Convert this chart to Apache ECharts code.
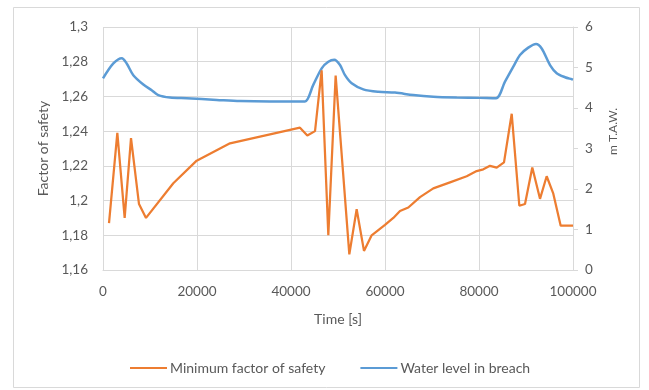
<!DOCTYPE html>
<html>
<head>
<meta charset="utf-8">
<script src="https://cdn.jsdelivr.net/npm/echarts@6/dist/echarts.min.js"></script>
<style>
  html, body { margin: 0; padding: 0; background: #fff; }
  #chart { width: 649px; height: 390px; }
</style>
</head>
<body>
<div id="chart"></div>
<script>
// Minimum factor of safety over time (left axis)
const fosTime = [1280, 3050, 4610, 5960, 7660, 9150, 14960, 19930, 21350, 27020, 31980, 36950, 41910, 43470, 45110, 46520, 47940, 49500, 52410, 53970, 55530, 57160, 60000, 61770, 63190, 64960, 67450, 70280, 73830, 77380, 79500, 80920, 82340, 83770, 85320, 86960, 88580, 89790, 91340, 92980, 94400, 95810, 97380, 100000];
const fosValues = [1.187, 1.239, 1.190, 1.236, 1.198, 1.190, 1.210, 1.223, 1.225, 1.233, 1.236, 1.239, 1.242, 1.2375, 1.240, 1.275, 1.180, 1.272, 1.169, 1.195, 1.171, 1.180, 1.186, 1.190, 1.194, 1.196, 1.202, 1.207, 1.2105, 1.214, 1.217, 1.218, 1.220, 1.219, 1.222, 1.250, 1.197, 1.198, 1.219, 1.201, 1.214, 1.204, 1.1855, 1.1855];

// Water level in the breach, m T.A.W. (right axis)
const waterTime = [0, 2200, 4000, 5040, 6450, 8580, 10360, 11770, 14260, 17810, 24190, 29150, 35530, 40850, 42980, 44740, 46530, 47940, 49210, 50430, 51490, 52910, 55380, 58570, 62130, 66020, 70280, 75260, 80210, 83620, 85530, 87300, 88720, 90490, 92130, 93340, 95110, 96530, 98300, 99720, 100000];
const waterValues = [4.73, 5.10, 5.23, 5.10, 4.81, 4.58, 4.44, 4.32, 4.26, 4.24, 4.20, 4.17, 4.16, 4.16, 4.16, 4.57, 4.98, 5.14, 5.19, 5.06, 4.81, 4.61, 4.46, 4.40, 4.38, 4.32, 4.28, 4.26, 4.25, 4.24, 4.65, 5.02, 5.31, 5.49, 5.58, 5.47, 5.06, 4.86, 4.76, 4.71, 4.70];

const seriesNames = ['Minimum factor of safety', 'Water level in breach'];
const axisTitles = { x: 'Time [s]', left: 'Factor of safety', right: 'm T.A.W.' };

const zip = (xs, ys) => xs.map((x, i) => [x, ys[i]]);

const FONT = 'Lato';
const TEXT = '#595959';
const GRID = '#d9d9d9';
const ORANGE = '#ED7D31';
const BLUE = '#5B9BD5';

const chart = echarts.init(document.getElementById('chart'), null, { renderer: 'canvas' });

chart.setOption({
  animation: false,
  backgroundColor: '#fff',
  textStyle: { fontFamily: FONT, color: TEXT },
  graphic: [{
    type: 'rect',
    shape: { x: 13.5, y: 7.5, width: 626, height: 380 },
    style: { fill: 'none', stroke: GRID, lineWidth: 1 },
    silent: true,
    z: -10
  }],
  grid: { left: 103, right: 76, top: 27, bottom: 120 },
  legend: {
    data: seriesNames,
    left: 125,
    top: 356,
    icon: 'rect',
    itemWidth: 37,
    itemHeight: 2,
    itemGap: 35,
    textStyle: { fontFamily: FONT, fontSize: 14, color: TEXT, padding: [0, 0, 0, -2] }
  },
  xAxis: {
    type: 'value',
    min: 0,
    max: 100000,
    interval: 20000,
    name: axisTitles.x,
    nameLocation: 'middle',
    nameGap: 42,
    nameTextStyle: { fontFamily: FONT, fontSize: 14, color: TEXT },
    axisLine: { show: true, lineStyle: { color: GRID, width: 1 } },
    axisTick: { show: false },
    axisLabel: {
      fontFamily: FONT, fontSize: 13.5, color: TEXT, margin: 15,
      formatter: v => String(v)
    },
    splitLine: { show: true, lineStyle: { color: GRID, width: 1 } }
  },
  yAxis: [{
    type: 'value',
    position: 'left',
    min: 1.16,
    max: 1.3,
    interval: 0.02,
    name: axisTitles.left,
    nameLocation: 'middle',
    nameRotate: 90,
    nameGap: 52,
    nameTextStyle: { fontFamily: FONT, fontSize: 14, color: TEXT },
    axisLine: { show: false },
    axisTick: { show: false },
    axisLabel: {
      fontFamily: FONT, fontSize: 13.5, color: TEXT, margin: 15,
      formatter: v => String(Math.round(v * 100) / 100).replace('.', ',')
    },
    splitLine: { show: true, lineStyle: { color: GRID, width: 1 } }
  }, {
    type: 'value',
    position: 'right',
    min: 0,
    max: 6,
    interval: 1,
    name: axisTitles.right,
    nameLocation: 'middle',
    nameRotate: 90,
    nameGap: 34,
    nameTextStyle: { fontFamily: FONT, fontSize: 12, color: TEXT, padding: [0, 0, 0, 34] },
    axisLine: { show: true, lineStyle: { color: GRID, width: 1 } },
    axisTick: { show: true, length: 5, lineStyle: { color: GRID } },
    axisLabel: { fontFamily: FONT, fontSize: 13.5, color: TEXT, margin: 12 },
    splitLine: { show: false }
  }],
  series: [{
    name: seriesNames[0],
    type: 'line',
    yAxisIndex: 0,
    data: zip(fosTime, fosValues),
    showSymbol: false,
    symbol: 'none',
    lineStyle: { color: ORANGE, width: 2.25 },
    itemStyle: { color: ORANGE },
    z: 3
  }, {
    name: seriesNames[1],
    type: 'line',
    yAxisIndex: 1,
    data: zip(waterTime, waterValues),
    showSymbol: false,
    symbol: 'none',
    smooth: 0.3,
    lineStyle: { color: BLUE, width: 2.5 },
    itemStyle: { color: BLUE },
    z: 2
  }]
});
</script>
</body>
</html>
